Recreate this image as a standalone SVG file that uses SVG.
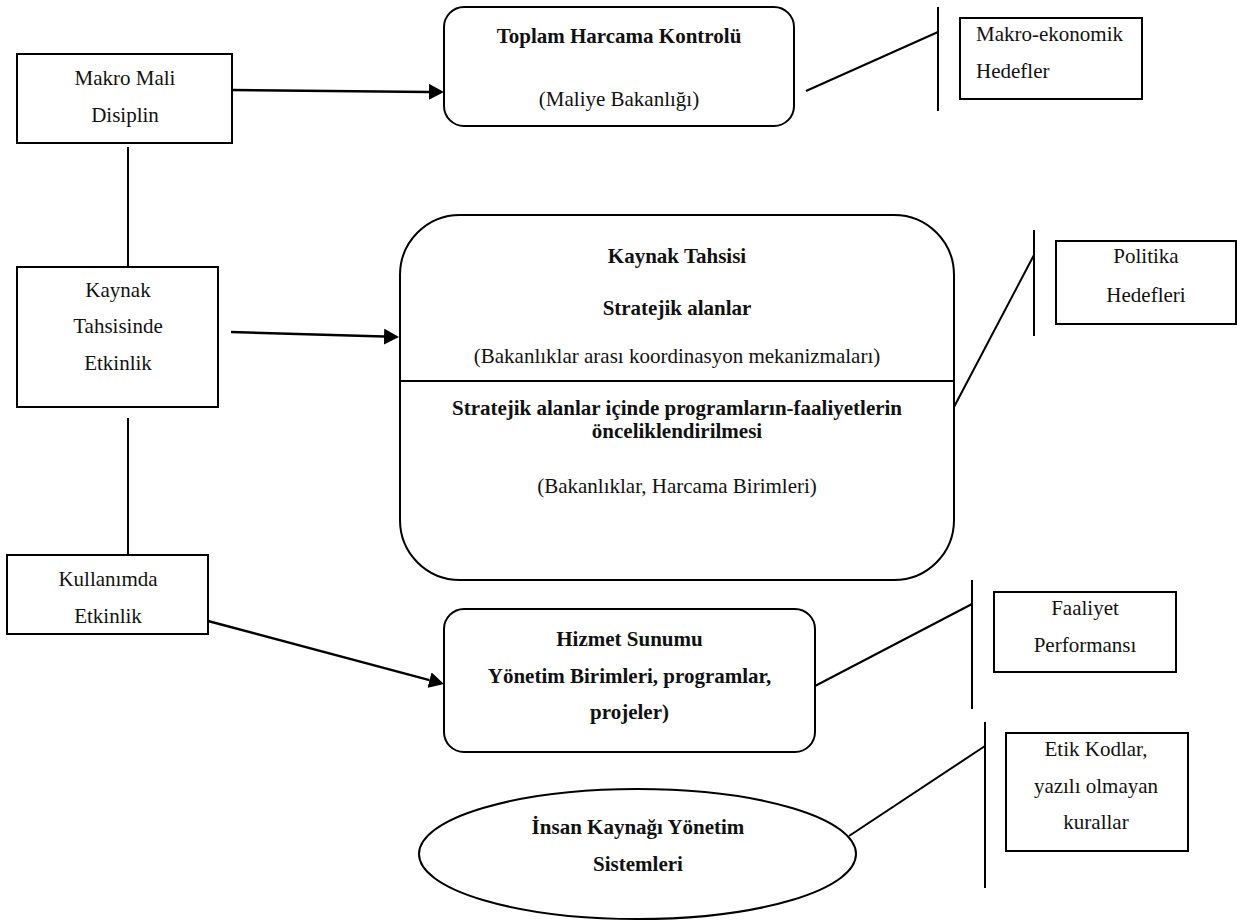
<svg xmlns="http://www.w3.org/2000/svg" width="1237" height="922" viewBox="0 0 1237 922" font-family="'Liberation Serif', 'DejaVu Serif', 'Times New Roman', Times, serif">
<defs>
<style>
.box{fill:#fff;stroke:#000;stroke-width:2}
.ln{fill:none;stroke:#000;stroke-width:2}
.arr{fill:none;stroke:#000;stroke-width:2.5}
text{font-family:'Liberation Serif','DejaVu Serif','Times New Roman',Times,serif;font-size:21px;fill:#111}
.b{font-weight:bold}
.c{text-anchor:middle}
</style>
<marker id="ah" markerUnits="userSpaceOnUse" markerWidth="15" markerHeight="16" refX="0" refY="8" orient="auto">
<path d="M0,0 L15,8 L0,16 z" fill="#000"/>
</marker>
</defs>
<rect width="1237" height="922" fill="#fff"/>

<g id="connectors">
<line class="ln" x1="128" y1="147" x2="128" y2="267"/>
<line class="ln" x1="128" y1="418" x2="128" y2="555"/>
<line class="arr" x1="232" y1="90" x2="429" y2="91.9" marker-end="url(#ah)"/>
<line class="arr" x1="231" y1="332" x2="384" y2="336.6" marker-end="url(#ah)"/>
<line class="arr" x1="208" y1="621" x2="429.5" y2="680.1" marker-end="url(#ah)"/>
<line class="ln" x1="806" y1="91" x2="938" y2="32"/>
<line class="ln" x1="938" y1="7" x2="938" y2="111"/>
<line class="ln" x1="954" y1="407" x2="1034" y2="255"/>
<line class="ln" x1="1034" y1="230" x2="1034" y2="336"/>
<line class="ln" x1="815" y1="686" x2="972" y2="604"/>
<line class="ln" x1="972" y1="580" x2="972" y2="709"/>
<line class="ln" x1="849" y1="836" x2="985" y2="746"/>
<line class="ln" x1="985" y1="722" x2="985" y2="888"/>
</g>

<g id="makro-mali">
<rect class="box" x="17" y="54" width="215" height="89"/>
<text class="c" x="125" y="85">Makro Mali</text>
<text class="c" x="125" y="122">Disiplin</text>
</g>

<g id="kaynak-tahsisinde">
<rect class="box" x="17" y="267" width="201" height="140"/>
<text class="c" x="118" y="297">Kaynak</text>
<text class="c" x="118" y="333">Tahsisinde</text>
<text class="c" x="118" y="370">Etkinlik</text>
</g>

<g id="kullanimda">
<rect class="box" x="7" y="555" width="201" height="79"/>
<text class="c" x="108" y="586">Kullanımda</text>
<text class="c" x="108" y="623">Etkinlik</text>
</g>

<g id="toplam-harcama">
<rect class="box" x="444" y="7" width="350" height="119" rx="20" ry="20"/>
<text class="c b" x="619" y="43">Toplam Harcama Kontrolü</text>
<text class="c" x="619" y="106">(Maliye Bakanlığı)</text>
</g>

<g id="kaynak-tahsisi">
<rect class="box" x="400" y="215" width="554" height="365" rx="60" ry="60"/>
<line class="ln" x1="400" y1="381" x2="954" y2="381"/>
<text class="c b" x="677" y="263">Kaynak Tahsisi</text>
<text class="c b" x="677" y="315">Stratejik alanlar</text>
<text class="c" x="677" y="363">(Bakanlıklar arası koordinasyon mekanizmaları)</text>
<text class="c b" x="677" y="415">Stratejik alanlar içinde programların-faaliyetlerin</text>
<text class="c b" x="677" y="438">önceliklendirilmesi</text>
<text class="c" x="677" y="493">(Bakanlıklar, Harcama Birimleri)</text>
</g>

<g id="hizmet-sunumu">
<rect class="box" x="444" y="609" width="371" height="143" rx="20" ry="20"/>
<text class="c b" x="629.5" y="646">Hizmet Sunumu</text>
<text class="c b" x="629.5" y="683">Yönetim Birimleri, programlar,</text>
<text class="c b" x="629.5" y="719">projeler)</text>
</g>

<g id="insan-kaynagi">
<ellipse class="box" cx="637.5" cy="854" rx="218.5" ry="65"/>
<text class="c b" x="638" y="834">İnsan Kaynağı Yönetim</text>
<text class="c b" x="638" y="871">Sistemleri</text>
</g>

<g id="makro-ekonomik">
<rect class="box" x="960" y="18" width="182" height="81"/>
<text x="976" y="41">Makro-ekonomik</text>
<text x="976" y="78">Hedefler</text>
</g>

<g id="politika">
<rect class="box" x="1056" y="241" width="180" height="83"/>
<text class="c" x="1146" y="263">Politika</text>
<text class="c" x="1146" y="302">Hedefleri</text>
</g>

<g id="faaliyet">
<rect class="box" x="994" y="592" width="182" height="80"/>
<text class="c" x="1085" y="615">Faaliyet</text>
<text class="c" x="1085" y="652">Performansı</text>
</g>

<g id="etik">
<rect class="box" x="1006" y="733" width="182" height="118"/>
<text class="c" x="1096" y="756">Etik Kodlar,</text>
<text class="c" x="1096" y="793">yazılı olmayan</text>
<text class="c" x="1096" y="829">kurallar</text>
</g>
</svg>
